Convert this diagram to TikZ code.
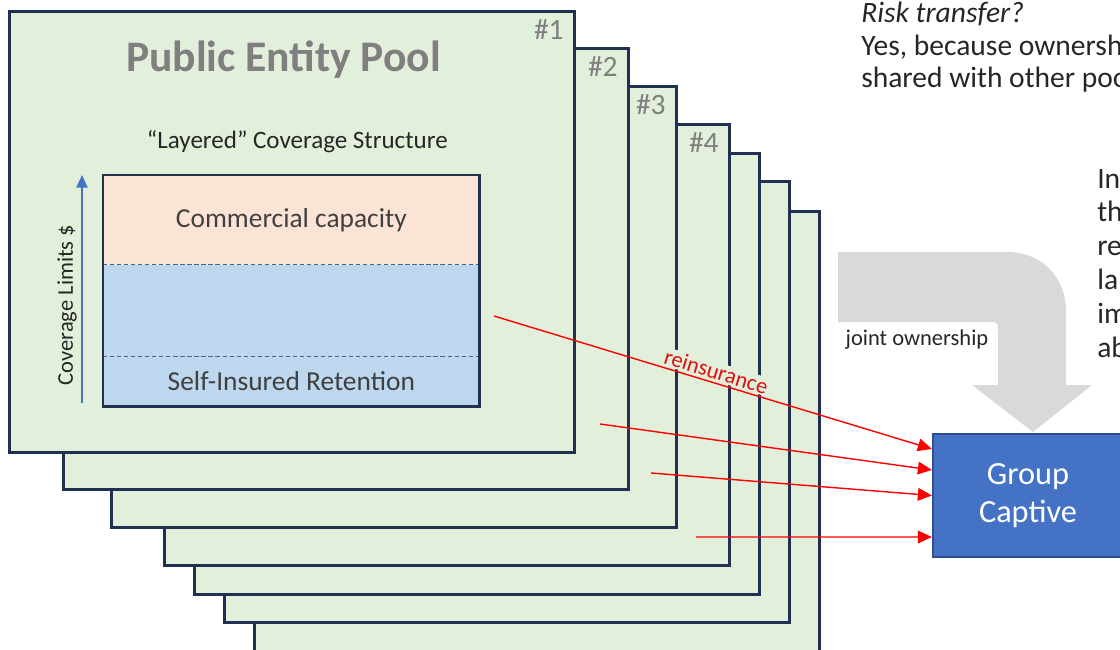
\documentclass[tikz,border=0pt]{standalone}
\usepackage{fontspec}
\setmainfont{Carlito}
\usepackage{tikz}
\usetikzlibrary{positioning,arrows.meta,calc}

\definecolor{poolgreen}{HTML}{E2EFDA}
\definecolor{poolline}{HTML}{1F3050}
\definecolor{headgray}{HTML}{7F7F7F}
\definecolor{layerpink}{HTML}{FBE4D6}
\definecolor{layerblue}{HTML}{BDD7EE}
\definecolor{dashblue}{HTML}{4F6288}
\definecolor{axisblue}{HTML}{4472C4}
\definecolor{captiveline}{HTML}{2F4F8F}
\definecolor{bandgray}{HTML}{D9D9D9}
\definecolor{textdark}{HTML}{262626}
\definecolor{textgray}{HTML}{404040}
\definecolor{reinsred}{HTML}{E01010}

\tikzset{
    pool/.style={draw=poolline, line width=2pt, fill=poolgreen, inner sep=0pt,
        minimum width=14.125cm, minimum height=11.025cm, anchor=north west},
    pool number/.style={text=headgray, inner sep=0pt, anchor=base east,
        font=\fontsize{21}{25}\selectfont},
    layer/.style={minimum width=9.4cm, inner sep=0pt,
        text=textgray, font=\fontsize{19.5}{23}\selectfont},
    reins/.style={draw=red, line width=1pt, -{Triangle[length=10pt, width=9pt]}},
    note/.style={anchor=base west, inner sep=0pt, text=textdark,
        font=\fontsize{21}{25}\selectfont},
}

\begin{document}
\begin{tikzpicture}[x=0.025cm, y=-0.025cm]
        \useasboundingbox (0,0) rectangle (1120,650);

        % POOLS
        % -----------------
        \foreach \i/\px/\py in {7/253/210, 6/223/180, 5/193/152, 4/163/123, 3/110/85, 2/62/47, 1/8/10}
            \node[pool] (pool\i) at (\px,\py) {};

        \foreach \i in {1,...,4}
            \node[pool number] (num\i) at ([xshift=-0.3cm, yshift=-0.725cm]pool\i.north east) {\#\i};

        \node[anchor=base, text=headgray, font=\fontsize{31}{36}\selectfont\bfseries] (pool_title) at (283.5,72) {Public Entity Pool};

        % LAYERS
        % -----------------
        \node[layer, anchor=north west, fill=layerpink, minimum height=2.225cm] (commercial) at (103,175) {Commercial capacity};
        \node[layer, fill=layerblue, minimum height=2.275cm, below=0pt of commercial] (middle) {};
        \node[layer, fill=layerblue, minimum height=1.25cm, below=0pt of middle] (retention) {Self-Insured Retention};

        \node[above=0.55cm of commercial, xshift=0.15cm, inner sep=0pt, text=textdark,
            font=\fontsize{17.8}{21}\selectfont] (structure_title) {“Layered” Coverage Structure};

        \draw[dashblue, line width=0.7pt, dash pattern=on 3pt off 2pt] (middle.north west) -- (middle.north east);
        \draw[dashblue, line width=0.7pt, dash pattern=on 3pt off 2pt] (retention.north west) -- (retention.north east);
        \draw[draw=poolline, line width=1.8pt] (commercial.north west) rectangle (retention.south east);

        % coverage axis
        \coordinate (axis_bottom) at (82,403);
        \coordinate (axis_top) at (82,175);
        \draw[axisblue, line width=1.1pt, -{Triangle[length=9pt, width=8pt]}] (axis_bottom) -- (axis_top);
        \node[rotate=90, inner sep=0pt, text=textdark, font=\fontsize{16}{19}\selectfont] (axis_label) at (67,305) {Coverage Limits \$};

        % CAPTIVE
        % -----------------
        % joint ownership band
        \fill[bandgray] (838,252) -- (1007,252) .. controls (1042,252) and (1066,277) .. (1066,312)
            -- (1066,385) -- (1092,385) -- (1033,432) -- (972,385) -- (998,385) -- (998,329)
            .. controls (998,324) and (997,322) .. (992,322) -- (838,322) -- cycle;
        \node[anchor=base, inner sep=0pt, text=textdark, font=\fontsize{16}{19}\selectfont] (joint_label) at (917,345) {joint ownership};

        \node[fill=axisblue, draw=captiveline, line width=1.5pt, minimum width=4.75cm, minimum height=3.075cm,
            text=white, align=center, font=\fontsize{23}{27}\selectfont] (captive) at (1028,495.5) {Group\\Captive};

        % EDGES
        % -----------------
        \coordinate (reins_a) at (494,316);
        \coordinate (reins_b) at (600,424);
        \coordinate (reins_c) at (651,473);
        \coordinate (reins_d) at (696,537);

        \draw[reins] (reins_a) -- node[sloped, above=1pt, pos=0.5, inner sep=1pt, fill=poolgreen, text=reinsred,
            font=\fontsize{16}{19}\selectfont] (reins_label) {reinsurance} ([yshift=1.1625cm]captive.west);
        \draw[reins] (reins_b) -- ([yshift=0.6375cm]captive.west);
        \draw[reins] (reins_c) -- (captive.west);
        \draw[reins] (reins_d) -- ([yshift=-1.0375cm]captive.west);

        % NOTES
        % -----------------
        \node[note] (risk_q) at (861,23) {\textit{Risk transfer?}};
        \node[note] (risk_a1) at (861,56) {Yes, because ownership};
        \node[note] (risk_a2) at (861,88) {shared with other pools};

        \foreach \t [count=\k] in {In,th,re,la,im,ab}
            \node[note] (side\k) at (1097,{188+33.8*(\k-1)}) {\t};

    \end{tikzpicture}
\end{document}
